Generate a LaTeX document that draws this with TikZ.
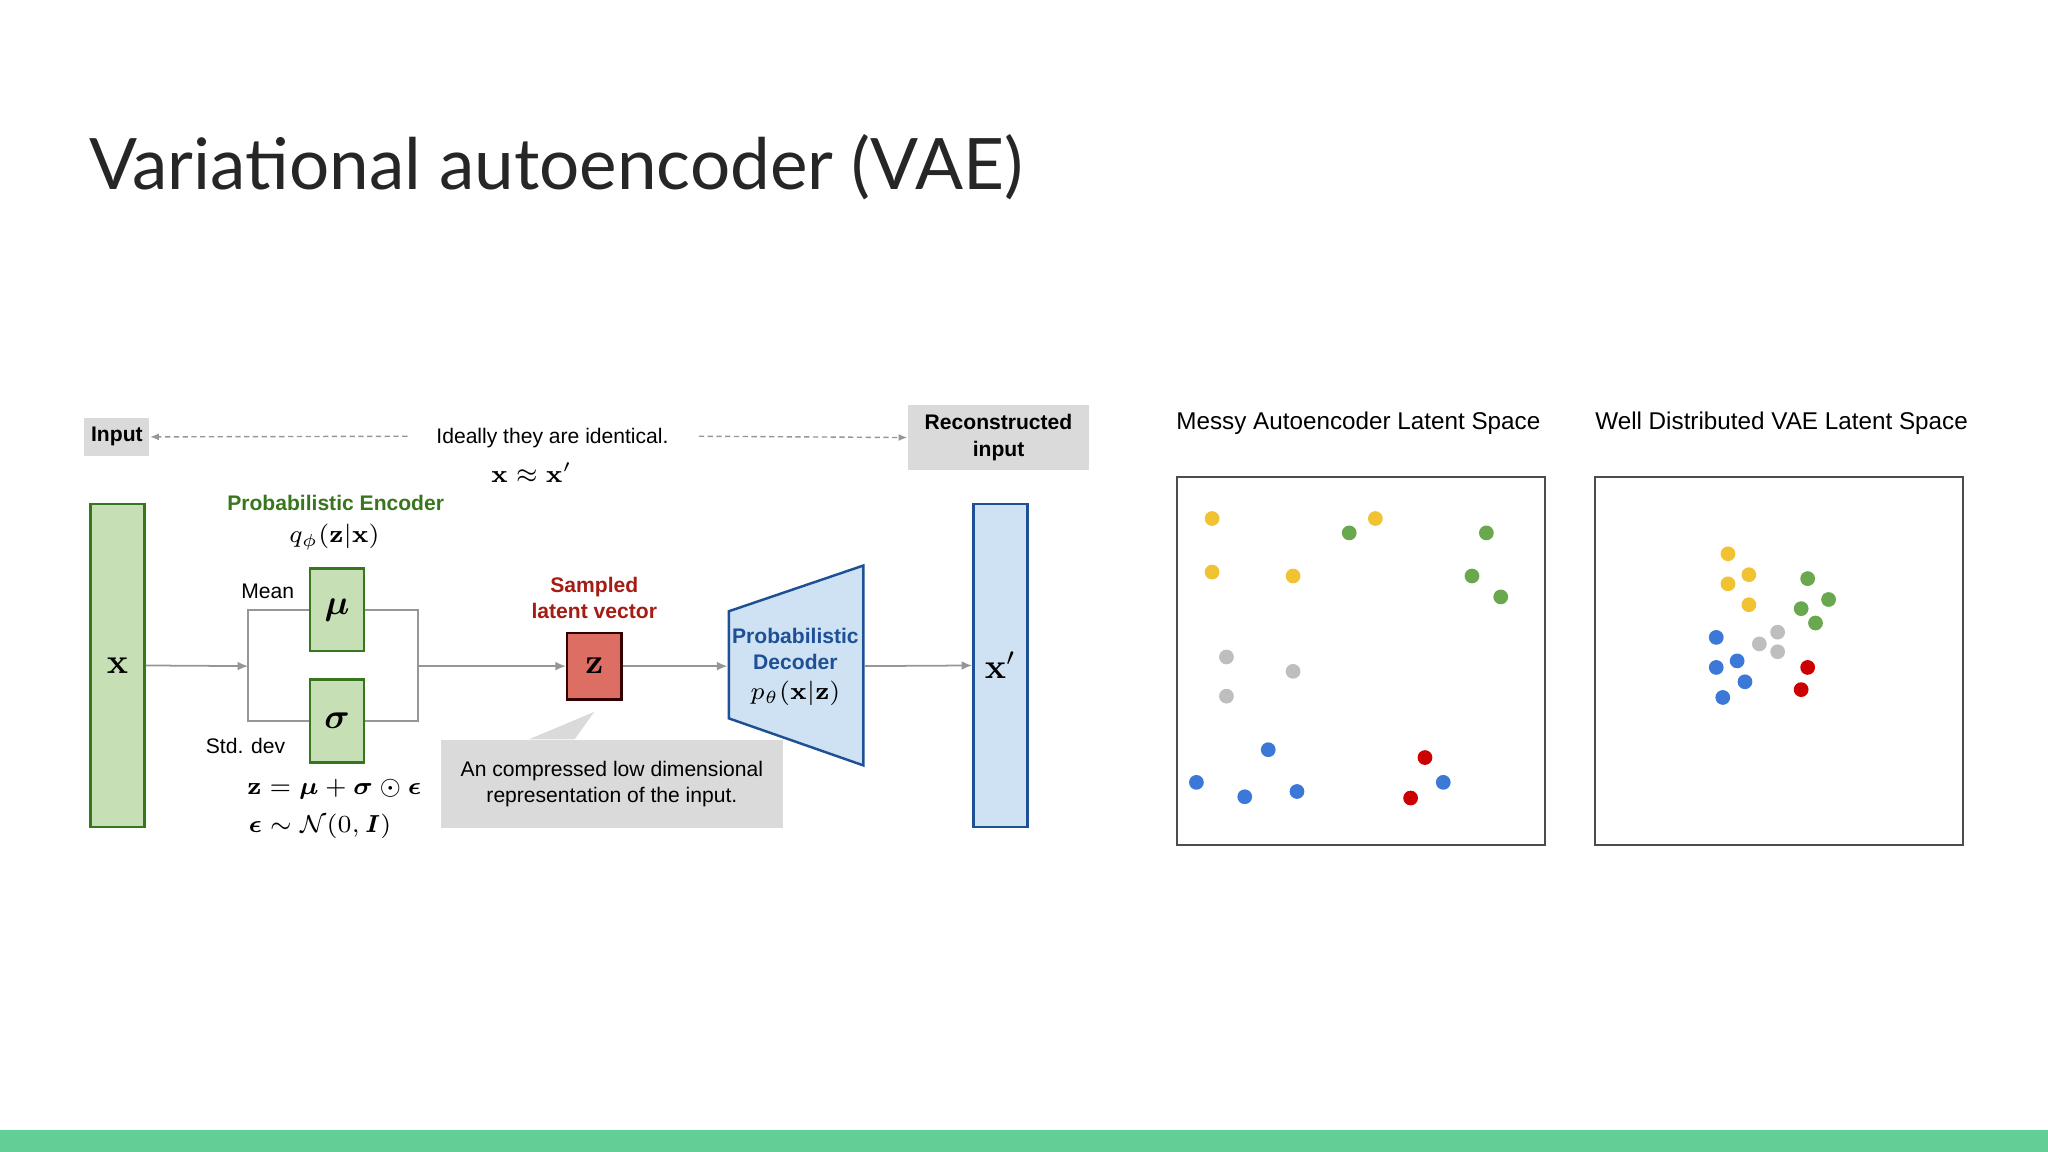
\documentclass[tikz,border=0pt]{standalone}
\usepackage{amsmath,amssymb,bm}
\usepackage[no-math]{fontspec}
\setmainfont{Liberation Sans}
\newfontfamily\titlefont{Lato}
\usetikzlibrary{arrows.meta,shapes.geometric}
\definecolor{encgreen}{RGB}{56,118,29}
\definecolor{encfill}{RGB}{199,223,180}
\definecolor{decblue}{RGB}{30,80,150}
\definecolor{decfill}{RGB}{207,226,243}
\definecolor{zred}{RGB}{165,28,20}
\definecolor{zfill}{RGB}{220,110,100}
\definecolor{boxgray}{RGB}{218,218,218}
\definecolor{linegray}{RGB}{150,150,150}
\definecolor{barg}{RGB}{98,207,150}
\definecolor{dy}{RGB}{241,194,50}
\definecolor{dg}{RGB}{106,168,79}
\definecolor{dgr}{RGB}{190,190,190}
\definecolor{db}{RGB}{60,120,216}
\definecolor{dr}{RGB}{204,0,0}
\tikzset{
  txt/.style={font=\fontsize{6}{7.4}\selectfont, inner sep=0pt, align=center},
  btxt/.style={txt, font=\fontsize{6}{7.4}\selectfont\bfseries},
  conn/.style={draw=linegray, line width=0.5pt},
  arr/.style={conn, -{Latex[length=3pt,width=2.5pt]}},
  darr/.style={draw=linegray, line width=0.4pt, dashed, dash pattern=on 1.5pt off 1pt, -{Latex[length=2.5pt,width=2pt]}},
  gbox/.style={draw=encgreen, fill=encfill, line width=0.7pt},
  dot/.style={circle, minimum size=4.2pt, inner sep=0pt},
}
\begin{document}
\begin{tikzpicture}[x=0.013061cm, y=-0.013061cm]
\useasboundingbox (0,0) rectangle (1568,882);
\fill[barg] (0,865) rectangle (1568,882);
\node[anchor=base west, inner sep=0pt, font=\titlefont\fontsize{20.2}{24}\selectfont, text=black!85] (title) at (68,145) {Variational autoencoder (VAE)};

% top labels
\node[fill=boxgray, btxt, minimum height=11pt, text width=18.5pt] (inp) at (89.5,334.5) {Input};
\node[fill=boxgray, btxt, minimum height=18.5pt, text width=51.5pt] (rec) at (764.5,335) {Reconstructed\\input};
\node[txt] (ideal) at (423,335) {Ideally they are identical.};
\node[txt, font=\fontsize{7.5}{9}\selectfont] (approx) at (407,362) {$\mathbf{x}\approx\mathbf{x}'$};
\coordinate (dl) at (312,334);
\coordinate (dr) at (535,334);
\draw[darr] (dl) -- (inp.east);
\draw[darr] (dr) -- (rec.west);

% encoder
\node[gbox, minimum width=15.4pt, minimum height=92pt, inner sep=0pt] (x) at (90,509.5) {$\mathbf{x}$};
\node[btxt, text=encgreen] (enc) at (257,385) {Probabilistic Encoder};
\node[txt, font=\fontsize{7.5}{9}\selectfont] (q) at (256,411) {$q_\phi(\mathbf{z}|\mathbf{x})$};
\node[gbox, minimum width=15.4pt, minimum height=23.5pt, inner sep=0pt] (mu) at (258,467) {$\bm{\mu}$};
\node[gbox, minimum width=15.4pt, minimum height=23.5pt, inner sep=0pt] (sig) at (258,552) {$\bm{\sigma}$};
\node[txt] (mean) at (205,453) {Mean};
\node[txt] (std) at (188,571) {Std. dev};
\coordinate (sl) at (190,510);
\coordinate (sr) at (320,510);
\draw[arr] (x.east) -- (sl);
\draw[conn] (mu.west) -| (sl) |- (sig.west);
\draw[conn] (mu.east) -| (sr) |- (sig.east);
\node[txt, font=\fontsize{7}{9}\selectfont] (eq1) at (256,604) {$\mathbf{z}=\bm{\mu}+\bm{\sigma}\odot\bm{\epsilon}$};
\node[txt, font=\fontsize{7}{9}\selectfont] (eq2) at (245,633) {$\bm{\epsilon}\sim\mathcal{N}(0,\bm{I})$};

% latent
\node[draw=black!80!red, fill=zfill, line width=0.7pt, minimum width=15.4pt, minimum height=19pt, inner sep=0pt] (z) at (455,510) {$\mathbf{z}$};
\node[btxt, text=zred] (samp) at (455,458) {Sampled\\latent vector};
\draw[arr] (sr) -- (z.west);
\fill[boxgray] (405,566) -- (455,545) -- (440,566) -- cycle;
\node[fill=boxgray, txt, minimum width=97.5pt, minimum height=25pt] (call) at (468.5,600) {An compressed low dimensional\\representation of the input.};

% decoder
\coordinate (d1) at (558,468); \coordinate (d2) at (661,433);
\coordinate (d3) at (661,586); \coordinate (d4) at (558,550);
\draw[draw=decblue, fill=decfill, line width=0.7pt] (d1) -- (d2) -- (d3) -- (d4) -- cycle;
\node[btxt, text=decblue] (dec) at (609,497) {Probabilistic\\Decoder};
\node[txt, font=\fontsize{7.5}{9}\selectfont] (p) at (609,531) {$p_\theta(\mathbf{x}|\mathbf{z})$};
\coordinate (din) at (557,510); \coordinate (dout) at (662,510);
\draw[arr] (z.east) -- (din);
\node[draw=decblue, fill=decfill, line width=0.7pt, minimum width=15.4pt, minimum height=92pt, inner sep=0pt] (xp) at (766,509.5) {$\mathbf{x}'$};
\draw[arr] (dout) -- (xp.west);

% latent spaces
\node[txt, font=\fontsize{6.9}{8}\selectfont] (t1) at (1040,324) {Messy Autoencoder Latent Space};
\node[txt, font=\fontsize{6.9}{8}\selectfont] (t2) at (1364,324) {Well Distributed VAE Latent Space};
\draw[black!70, line width=0.5pt] (901,365) rectangle (1183,647);
\draw[black!70, line width=0.5pt] (1221,365) rectangle (1503,647);
\foreach \c/\pts in {dy/{(928,397),(1053,397),(928,438),(990,441)},
  dg/{(1033,408),(1138,408),(1127,441),(1149,457)},
  dgr/{(939,503),(990,514),(939,533)},
  db/{(971,574),(916,599),(953,610),(993,606),(1105,599)},
  dr/{(1091,580),(1080,611)},
  dy/{(1323,424),(1339,440),(1323,447),(1339,463)},
  dg/{(1384,443),(1400,459),(1379,466),(1390,477)},
  dgr/{(1361,484),(1347,493),(1361,499)},
  db/{(1314,488),(1330,506),(1314,511),(1336,522),(1319,534)},
  dr/{(1384,511),(1379,528)}}
  \foreach \pt in \pts \node[dot, fill=\c] at \pt {};
\end{tikzpicture}
\end{document}
